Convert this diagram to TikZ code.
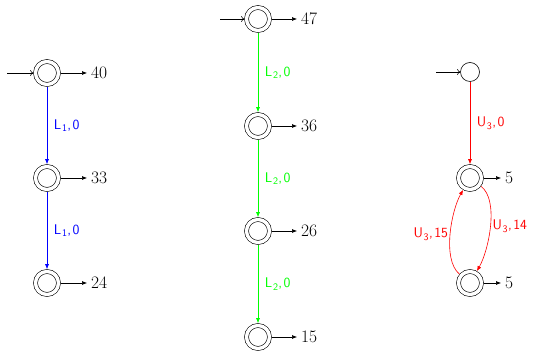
\documentclass[tikz,border=0pt]{standalone}
\usetikzlibrary{arrows.meta}
\definecolor{lgreen}{rgb}{0,1,0}
\newcommand\mylab[3]{#1\kern0.8pt\raisebox{-2.6pt}{\fontsize{10}{10}\selectfont #2}\kern0.4pt,\kern1.4pt#3}
\begin{document}
\begin{tikzpicture}[x=1pt,y=1pt,
  acc/.style={circle,draw,line width=0.6pt,double,double distance=3.4pt,minimum size=23pt,inner sep=0pt,outer sep=2.3pt},
  plainst/.style={circle,draw,line width=0.6pt,minimum size=19pt,inner sep=0pt},
  num/.style={anchor=west,inner sep=4pt,font=\fontsize{17.5}{20}\selectfont},
  lab/.style={font=\fontsize{14}{16}\sffamily,inner sep=0pt},
  trans/.style={line width=0.6pt,-{Latex[length=5pt,width=4pt]}},
  initarr/.style={line width=0.6pt,-{To[length=3pt,width=6pt]}},
  accarr/.style={line width=0.6pt,-{Latex[length=5pt,width=4pt]}}
]
\useasboundingbox (0,0) rectangle (533,353);
% states
\node[acc] (a1) at (47,280) {};
\node[acc] (a2) at (47,175) {};
\node[acc] (a3) at (47,70) {};
\node[acc] (b1) at (258,334) {};
\node[acc] (b2) at (258,227) {};
\node[acc] (b3) at (258,122) {};
\node[acc] (b4) at (258,16) {};
\node[plainst] (c1) at (470,281) {};
\node[acc] (c2) at (470,175) {};
\node[acc] (c3) at (470,70) {};
% initial arrows
\coordinate (ia) at (7,280);
\coordinate (ib) at (220,334);
\coordinate (ic) at (436,281);
\draw[initarr] (ia) -- (a1);
\draw[initarr] (ib) -- (b1);
\draw[initarr] (ic) -- (c1);
% output numbers
\node[num] (na1) at (87,280) {40};
\node[num] (na2) at (87,175) {33};
\node[num] (na3) at (87,70) {24};
\node[num] (nb1) at (297,334) {47};
\node[num] (nb2) at (297,227) {36};
\node[num] (nb3) at (297,122) {26};
\node[num] (nb4) at (297,16) {15};
\node[num] (nc2) at (501,175) {5};
\node[num] (nc3) at (501,70) {5};
\draw[accarr] (a1) -- (na1);
\draw[accarr] (a2) -- (na2);
\draw[accarr] (a3) -- (na3);
\draw[accarr] (b1) -- (nb1);
\draw[accarr] (b2) -- (nb2);
\draw[accarr] (b3) -- (nb3);
\draw[accarr] (b4) -- (nb4);
\draw[accarr] (c2) -- (nc2);
\draw[accarr] (c3) -- (nc3);
% transitions
\draw[trans,blue] (a1) -- node[lab,right=6.5pt]{\mylab{L}{1}{0}} (a2);
\draw[trans,blue] (a2) -- node[lab,right=6.5pt]{\mylab{L}{1}{0}} (a3);
\draw[trans,lgreen] (b1) -- node[lab,right=6.5pt]{\mylab{L}{2}{0}} (b2);
\draw[trans,lgreen] (b2) -- node[lab,right=6.5pt]{\mylab{L}{2}{0}} (b3);
\draw[trans,lgreen] (b3) -- node[lab,right=6.5pt]{\mylab{L}{2}{0}} (b4);
\draw[trans,red] (c1) -- node[lab,right=6.5pt]{\mylab{U}{3}{0}} (c2);
\draw[trans,red] (c2) to[out=-37,in=60,looseness=0.7] node[lab,right=2pt]{\mylab{U}{3}{14}} (c3);
\draw[trans,red] (c3) to[out=140,in=-120,looseness=0.7] node[lab,left=2pt]{\mylab{U}{3}{15}} (c2);
\end{tikzpicture}
\end{document}
